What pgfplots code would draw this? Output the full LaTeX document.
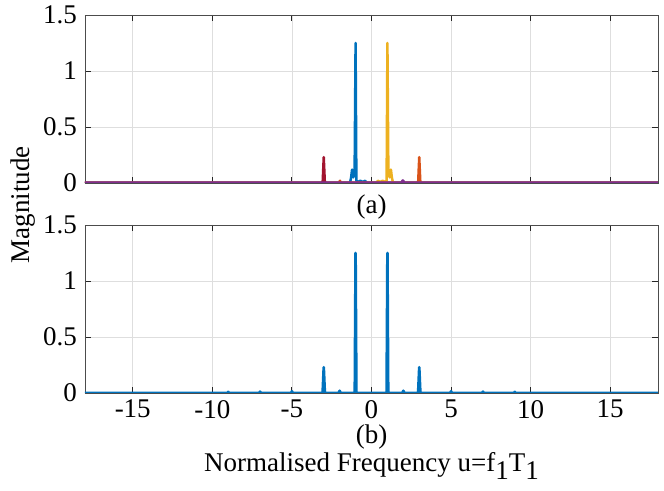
\documentclass[border=0pt]{standalone}
\usepackage{pgfplots}
\pgfplotsset{compat=1.18}
\usepackage{fontspec}
\setmainfont{Liberation Serif}
\definecolor{mblue}{RGB}{0,114,189}
\definecolor{morange}{RGB}{217,83,25}
\definecolor{myellow}{RGB}{237,177,32}
\definecolor{mpurple}{RGB}{126,47,142}
\definecolor{mdred}{RGB}{162,20,47}
\newcommand\fsz{\fontsize{13.5}{15}\selectfont}
\pgfplotsset{mystyle/.style={
  width=286.5pt, height=84pt, scale only axis,
  xmin=-18, xmax=18, ymin=0, ymax=1.5,
  xtick={-15,-10,...,15}, ytick={0,0.5,1,1.5},
  grid=major, major grid style={color=black!13, line width=0.4pt},
  axis line style={color=black!70, line width=0.45pt},
  tick style={color=black!85, line width=0.45pt},
  tick align=inside, major tick length=3pt,
  ticklabel style={font=\rmfamily\fsz},
  yticklabel style={xshift=-0.5pt},
  /pgf/number format/assume math mode=true,
  every axis plot/.append style={line width=1.25pt, line join=round},
}}
\begin{document}
\begin{tikzpicture}
\useasboundingbox (0,0) rectangle (332pt,245.5pt);
% top axis
\begin{axis}[mystyle, at={(42.5pt,154pt)}, anchor=south west, xticklabels={}]
\addplot[mblue] coordinates {(-18,0)(-1.35,0)(-1.28,0.05)(-1.22,0.12)(-1.14,0.05)(-1.06,0.1)(-1,1.25)(-0.95,0.02)(-0.85,0.01)(-0.7,0.02)(-0.55,0.01)(-0.4,0.02)(-0.3,0)(18,0)};
\addplot[morange] coordinates {(-18,0)(-2.05,0)(-1.98,0.02)(-1.92,0)(2.93,0)(3,0.23)(3.07,0)(18,0)};
\addplot[myellow] coordinates {(-18,0)(0.3,0)(0.4,0.02)(0.55,0.01)(0.7,0.02)(0.85,0.01)(0.95,0.02)(1,1.25)(1.06,0.1)(1.14,0.05)(1.22,0.12)(1.28,0.05)(1.35,0)(18,0)};
\addplot[mdred] coordinates {(-18,0)(-3.07,0)(-3,0.23)(-2.93,0)(18,0)};
\addplot[mpurple, line width=1.6pt] coordinates {(-18,0)(1.9,0)(1.97,0.02)(2.04,0)(18,0)};
\end{axis}
% bottom axis
\begin{axis}[mystyle, at={(42.5pt,49pt)}, anchor=south west]
\addplot[mblue, line width=1.35pt] coordinates {(-18,0)(-9.06,0)(-9,0.01)(-8.94,0)(-7.06,0)(-7,0.012)(-6.94,0)(-5.06,0)(-5,0.015)(-4.94,0)(-3.07,0)(-3,0.23)(-2.93,0)(-2.06,0)(-2,0.02)(-1.94,0)(-1.05,0)(-1,1.25)(-0.95,0)(0.95,0)(1,1.25)(1.05,0)(1.94,0)(2,0.02)(2.06,0)(2.93,0)(3,0.23)(3.07,0)(4.94,0)(5,0.015)(5.06,0)(6.94,0)(7,0.012)(7.06,0)(8.94,0)(9,0.01)(9.06,0)(18,0)};
\end{axis}
\node[font=\rmfamily\fsz] at (185.75pt,142pt) {(a)};
\node[font=\rmfamily\fsz] at (185.75pt,27pt) {(b)};
\node[font=\rmfamily\fsz] at (185.75pt,12.5pt) {Normalised Frequency u=f\raisebox{-0.6ex}{1}T\raisebox{-0.6ex}{1}};
\node[font=\rmfamily\fsz, rotate=90] at (11.5pt,143pt) {Magnitude};
\end{tikzpicture}
\end{document}
